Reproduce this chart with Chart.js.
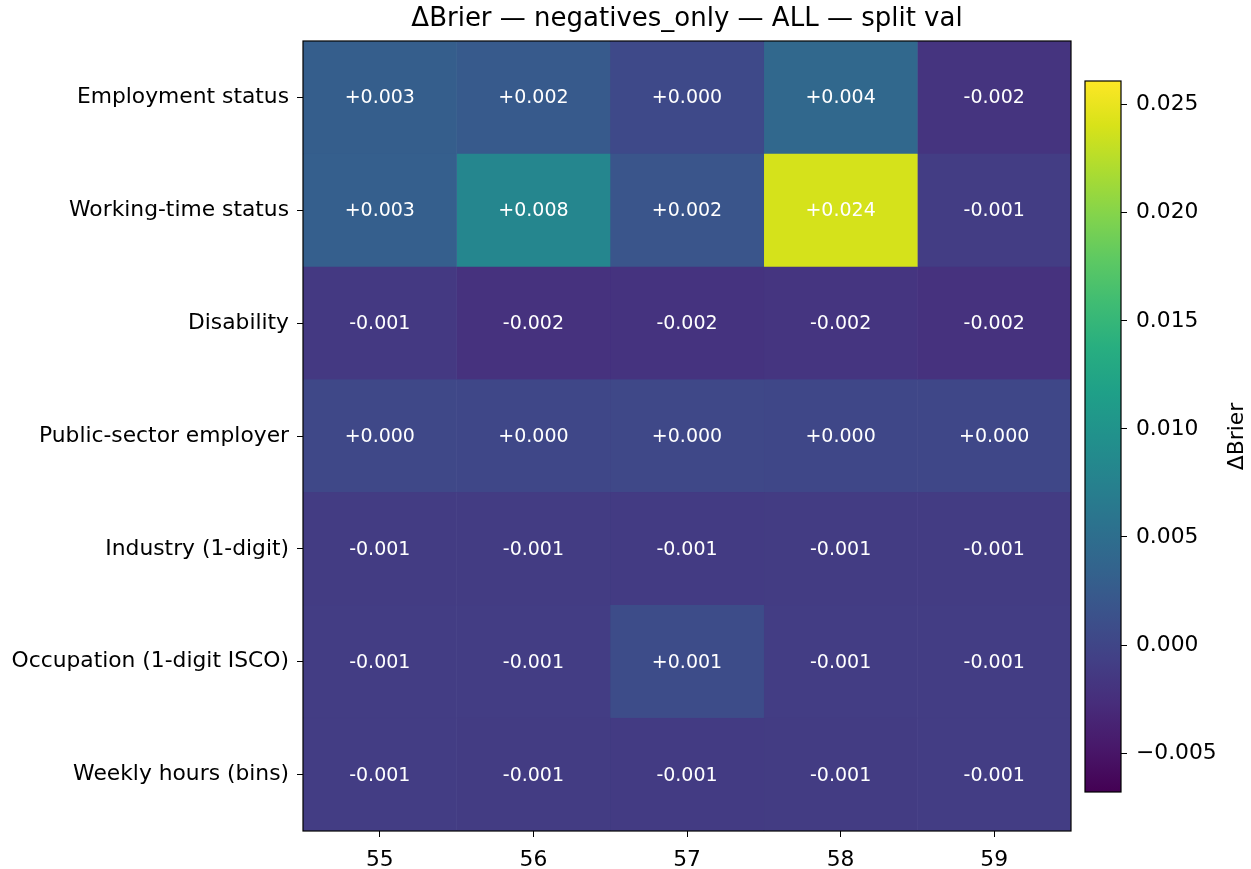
<!DOCTYPE html>
<html lang="en">
<head>
  <meta charset="UTF-8" />
  <title>ΔBrier heatmap</title>
  <script src="https://cdn.jsdelivr.net/npm/chart.js@4.4.1/dist/chart.umd.min.js"></script>
  <style>
    * { box-sizing: border-box; margin: 0; padding: 0; }
    body { width: 1251px; height: 869px; background: #fff; position: relative; overflow: hidden; }
    #wrapMain { position: absolute; left: 0; top: 0; width: 1080px; height: 869px; }
    #wrapBar { position: absolute; left: 1070px; top: 0; width: 181px; height: 869px; }
  </style>
</head>
<body>
  <div id="wrapMain"><canvas id="heat"></canvas></div>
  <div id="wrapBar"><canvas id="cbar"></canvas></div>

  <script>
    // --- Daten ---
    const title = 'ΔBrier — negatives_only — ALL — split val';
    const rowLabels = [
      'Employment status',
      'Working-time status',
      'Disability',
      'Public-sector employer',
      'Industry (1-digit)',
      'Occupation (1-digit ISCO)',
      'Weekly hours (bins)'
    ];
    const colLabels = [55, 56, 57, 58, 59];

    const employment   = [0.0029, 0.0024, 0.0004, 0.0041, -0.0019];
    const workingTime  = [0.0030, 0.0081, 0.0018, 0.0239, -0.0010];
    const disability   = [-0.0014, -0.0021, -0.0020, -0.0018, -0.0021];
    const publicSector = [0.0003, 0.0002, 0.0003, 0.0002, 0.0002];
    const industry     = [-0.0011, -0.0011, -0.0012, -0.0011, -0.0011];
    const occupation   = [-0.0010, -0.0010, 0.0007, -0.0010, -0.0010];
    const weeklyHours  = [-0.0010, -0.0011, -0.0012, -0.0011, -0.0010];

    const values = [employment, workingTime, disability, publicSector, industry, occupation, weeklyHours];

    const vmin = -0.0068;
    const vmax = 0.0261;
    const cbarTicks = [-0.005, 0.000, 0.005, 0.010, 0.015, 0.020, 0.025];
    const cbarLabel = 'ΔBrier';

    // viridis Stützstellen (0, 1/16, ..., 1)
    const viridis = ['#440154','#48186a','#472d7b','#424086','#3b528b','#33638d','#2c728e','#26828e',
                     '#21918c','#1fa088','#28ae80','#3fbc73','#5ec962','#84d44b','#addc30','#d8e219','#fde725'];

    function hexToRgb(h) {
      return [parseInt(h.substr(1, 2), 16), parseInt(h.substr(3, 2), 16), parseInt(h.substr(5, 2), 16)];
    }
    function colorFor(v) {
      let t = (v - vmin) / (vmax - vmin);
      t = Math.max(0, Math.min(1, t));
      const pos = t * (viridis.length - 1);
      const i = Math.min(Math.floor(pos), viridis.length - 2);
      const f = pos - i;
      const a = hexToRgb(viridis[i]), b = hexToRgb(viridis[i + 1]);
      const c = a.map((x, k) => Math.round(x + (b[k] - x) * f));
      return `rgb(${c[0]},${c[1]},${c[2]})`;
    }

    const FONT = 'DejaVu Sans';
    const TICK = 21.8;
    Chart.defaults.font.family = FONT;
    Chart.defaults.color = '#000';

    // Rahmen um die Zeichenfläche
    const frame = {
      id: 'frame',
      afterDraw(chart) {
        const { ctx, chartArea: a } = chart;
        ctx.save();
        ctx.strokeStyle = '#000';
        ctx.lineWidth = 1.2;
        ctx.strokeRect(a.left, a.top, a.right - a.left, a.bottom - a.top);
        ctx.restore();
      }
    };

    // Zahlen in den Zellen + Titel
    const cellText = {
      id: 'cellText',
      afterDatasetsDraw(chart) {
        const { ctx } = chart;
        const xs = chart.scales.x, ys = chart.scales.y;
        ctx.save();
        ctx.fillStyle = '#fff';
        ctx.font = `19px "${FONT}"`;
        ctx.textAlign = 'center';
        ctx.textBaseline = 'middle';
        values.forEach((row, r) => {
          row.forEach((v, c) => {
            const txt = (v >= 0 ? '+' : '-') + Math.abs(v).toFixed(3);
            ctx.fillText(txt, xs.getPixelForValue(colLabels[c]), ys.getPixelForValue(r) + 1);
          });
        });
        ctx.restore();
      },
      afterDraw(chart) {
        const { ctx, chartArea: a } = chart;
        ctx.save();
        ctx.fillStyle = '#000';
        ctx.font = `26px "${FONT}"`;
        ctx.textAlign = 'center';
        ctx.textBaseline = 'middle';
        ctx.fillText(title, (a.left + a.right) / 2, 19);
        ctx.restore();
      }
    };

    const datasets = colLabels.map((col, c) => ({
      label: String(col),
      data: rowLabels.map(() => [col - 0.5, col + 0.5]),
      backgroundColor: values.map(row => colorFor(row[c])),
      borderColor: values.map(row => colorFor(row[c])),
      borderWidth: 0.5,
      borderSkipped: false,
      barPercentage: 1,
      categoryPercentage: 1,
      grouped: false
    }));

    new Chart(document.getElementById('heat'), {
      type: 'bar',
      data: { labels: rowLabels, datasets },
      options: {
        indexAxis: 'y',
        responsive: true,
        maintainAspectRatio: false,
        animation: false,
        layout: { padding: { top: 41, right: 9, left: 0, bottom: 0 } },
        plugins: { legend: { display: false }, tooltip: { enabled: false } },
        scales: {
          x: {
            type: 'linear',
            min: 54.5,
            max: 59.5,
            afterBuildTicks: s => { s.ticks = colLabels.map(v => ({ value: v })); },
            afterFit: s => { s.height = 38; },
            grid: { drawOnChartArea: false, drawTicks: true, tickLength: 6, color: '#000' },
            border: { display: false },
            ticks: { font: { size: TICK }, padding: 10, color: '#000', maxRotation: 0 }
          },
          y: {
            type: 'category',
            afterFit: s => { s.width = 303; },
            grid: { drawOnChartArea: false, drawTicks: true, tickLength: 6, color: '#000', offset: false },
            border: { display: false },
            ticks: { font: { size: TICK }, padding: 8, color: '#000' }
          }
        }
      },
      plugins: [cellText, frame]
    });

    // Farbskala
    const cbarLabelPlugin = {
      id: 'cbarLabel',
      afterDraw(chart) {
        const { ctx, chartArea: a } = chart;
        ctx.save();
        ctx.fillStyle = '#000';
        ctx.font = `${TICK}px "${FONT}"`;
        ctx.textAlign = 'center';
        ctx.textBaseline = 'middle';
        ctx.translate(167, (a.top + a.bottom) / 2);
        ctx.rotate(-Math.PI / 2);
        ctx.fillText(cbarLabel, 0, 0);
        ctx.restore();
      }
    };

    new Chart(document.getElementById('cbar'), {
      type: 'bar',
      data: {
        labels: [''],
        datasets: [{
          data: [[vmin, vmax]],
          backgroundColor: (ctx) => {
            const a = ctx.chart.chartArea;
            if (!a) return viridis[0];
            const g = ctx.chart.ctx.createLinearGradient(0, a.bottom, 0, a.top);
            viridis.forEach((c, i) => g.addColorStop(i / (viridis.length - 1), c));
            return g;
          },
          borderWidth: 0,
          barPercentage: 1,
          categoryPercentage: 1
        }]
      },
      options: {
        responsive: true,
        maintainAspectRatio: false,
        animation: false,
        layout: { padding: { top: 81, bottom: 77, left: 15, right: 0 } },
        plugins: { legend: { display: false }, tooltip: { enabled: false } },
        scales: {
          x: { display: false },
          y: {
            position: 'right',
            min: vmin,
            max: vmax,
            afterBuildTicks: s => { s.ticks = cbarTicks.map(v => ({ value: v })); },
            afterFit: s => { s.width = 130; },
            grid: { drawOnChartArea: false, drawTicks: true, tickLength: 6, color: '#000' },
            border: { display: false },
            ticks: {
              font: { size: TICK },
              padding: 9,
              color: '#000',
              callback: v => (v < 0 ? '\u2212' : '') + Math.abs(v).toFixed(3)
            }
          }
        }
      },
      plugins: [frame, cbarLabelPlugin]
    });
  </script>
</body>
</html>
